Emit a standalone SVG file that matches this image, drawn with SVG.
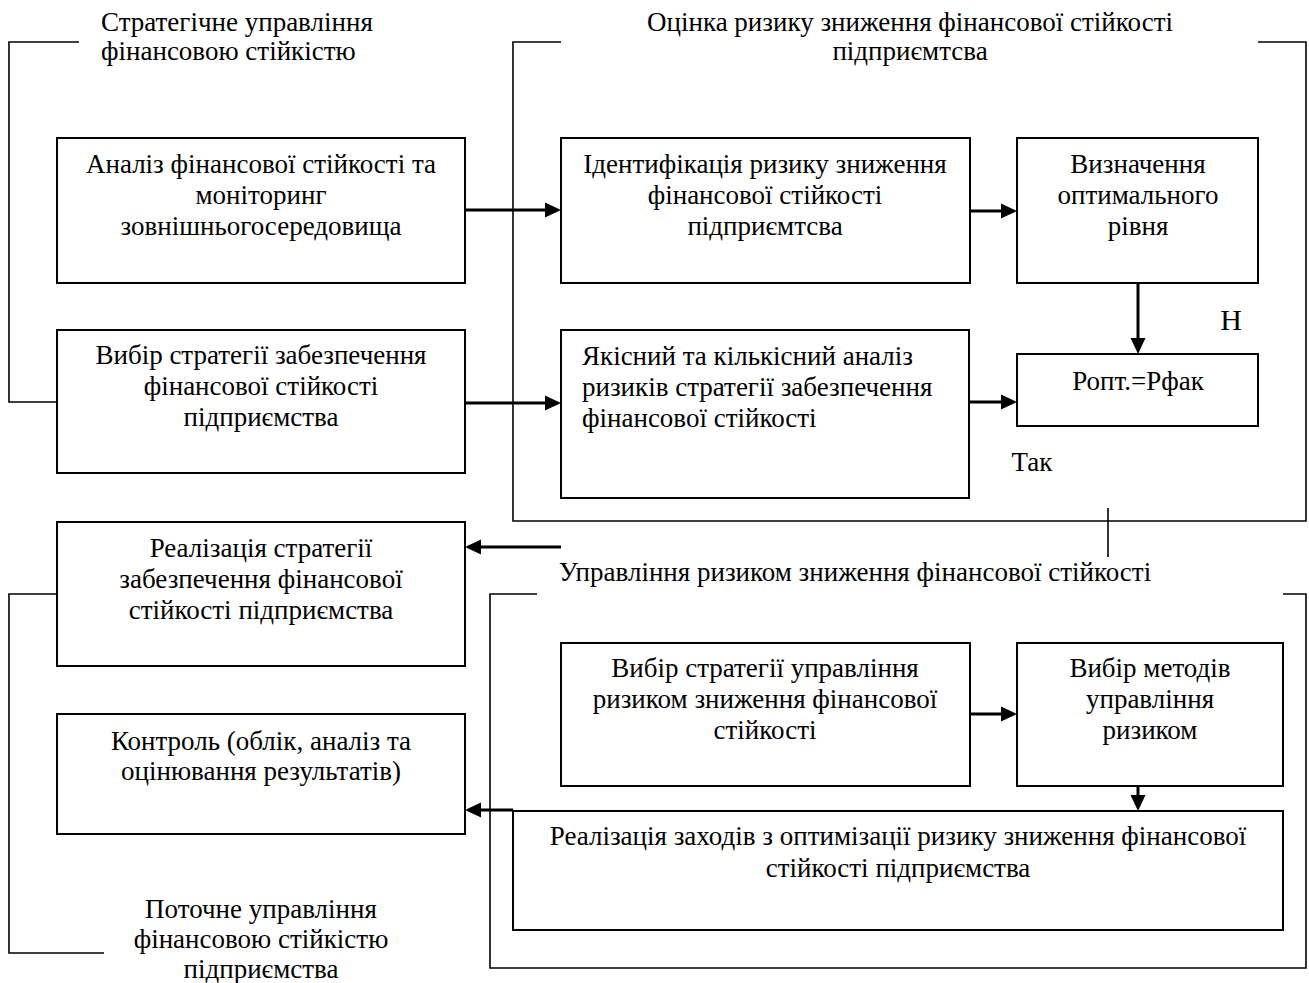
<svg xmlns="http://www.w3.org/2000/svg" width="1309" height="983" viewBox="0 0 1309 983">
<style>
.bx{fill:#fff;stroke:#000;stroke-width:2}
.br{fill:none;stroke:#000;stroke-width:1.6}
.ar{fill:none;stroke:#000;stroke-width:3;marker-end:url(#ah)}
text{font-family:"Liberation Serif","Times New Roman",serif;font-size:27px;fill:#000}
.c{text-anchor:middle}
</style>
<defs>
<marker id="ah" markerUnits="userSpaceOnUse" markerWidth="16" markerHeight="16" refX="6" refY="8" orient="auto">
<path d="M0,0.5 L16,8 L0,15.5 z" fill="#000"/>
</marker>
</defs>
<rect width="1309" height="983" fill="#fff"/>

<g id="frames">
<path class="br" d="M79,42 H9 V402 H57"/>
<path class="br" d="M561,42 H513 V521 H1306 V42 H1258"/>
<path class="br" d="M1108,508 V557"/>
<path class="br" d="M57,594 H9 V953 H104"/>
<path class="br" d="M537,594 H490 V968 H1306 V594 H1283"/>
</g>

<g id="labels">
<text x="101" y="31">Стратегічне управління</text>
<text x="101" y="60">фінансовою стійкістю</text>
<text class="c" x="910" y="31">Оцінка ризику зниження фінансової стійкості</text>
<text class="c" x="910" y="60">підприємтсва</text>
<text class="c" x="855" y="581">Управління ризиком зниження фінансової стійкості</text>
<text class="c" x="261" y="918">Поточне управління</text>
<text class="c" x="261" y="948">фінансовою стійкістю</text>
<text class="c" x="261" y="978">підприємства</text>
<text class="c" x="1231" y="330" style="font-size:30px">Н</text>
<text class="c" x="1032" y="471">Так</text>
</g>

<g id="n1"><rect class="bx" x="57" y="138" width="408" height="145"/>
<text class="c" x="261" y="173">Аналіз фінансової стійкості та</text>
<text class="c" x="261" y="204">моніторинг</text>
<text class="c" x="261" y="235">зовнішньогосередовища</text></g>

<g id="n2"><rect class="bx" x="57" y="330" width="408" height="143"/>
<text class="c" x="261" y="364">Вибір стратегії забезпечення</text>
<text class="c" x="261" y="395">фінансової стійкості</text>
<text class="c" x="261" y="426">підприємства</text></g>

<g id="n3"><rect class="bx" x="561" y="138" width="409" height="145"/>
<text class="c" x="765" y="173">Ідентифікація ризику зниження</text>
<text class="c" x="765" y="204">фінансової стійкості</text>
<text class="c" x="765" y="235">підприємтсва</text></g>

<g id="n4"><rect class="bx" x="561" y="330" width="408" height="168"/>
<text x="582" y="365">Якісний та кількісний аналіз</text>
<text x="582" y="396">ризиків стратегії забезпечення</text>
<text x="582" y="427">фінансової стійкості</text></g>

<g id="n5"><rect class="bx" x="1017" y="138" width="241" height="145"/>
<text class="c" x="1138" y="173">Визначення</text>
<text class="c" x="1138" y="204">оптимального</text>
<text class="c" x="1138" y="235">рівня</text></g>

<g id="n6"><rect class="bx" x="1017" y="354" width="241" height="72"/>
<text class="c" x="1138" y="390">Ропт.=Рфак</text></g>

<g id="n7"><rect class="bx" x="57" y="522" width="408" height="144"/>
<text class="c" x="261" y="557">Реалізація стратегії</text>
<text class="c" x="261" y="588">забезпечення фінансової</text>
<text class="c" x="261" y="619">стійкості підприємства</text></g>

<g id="n8"><rect class="bx" x="57" y="714" width="408" height="120"/>
<text class="c" x="261" y="750">Контроль (облік, аналіз та</text>
<text class="c" x="261" y="780">оцінювання результатів)</text></g>

<g id="n9"><rect class="bx" x="561" y="643" width="409" height="143"/>
<text class="c" x="765" y="677">Вибір стратегії управління</text>
<text class="c" x="765" y="708">ризиком зниження фінансової</text>
<text class="c" x="765" y="739">стійкості</text></g>

<g id="n10"><rect class="bx" x="1017" y="643" width="266" height="143"/>
<text class="c" x="1150" y="677">Вибір методів</text>
<text class="c" x="1150" y="708">управління</text>
<text class="c" x="1150" y="739">ризиком</text></g>

<g id="n11"><rect class="bx" x="513" y="811" width="770" height="119"/>
<text class="c" x="898" y="845">Реалізація заходів з оптимізації ризику зниження фінансової</text>
<text class="c" x="898" y="877">стійкості підприємства</text></g>

<g id="connectors">
<path class="ar" d="M466,210 H551"/>
<path class="ar" d="M466,403 H551"/>
<path class="ar" d="M971,211 H1007"/>
<path class="ar" d="M1138,284 V344"/>
<path class="ar" d="M970,402 H1007"/>
<path class="ar" d="M561,547 H475"/>
<path class="ar" d="M513,810 H475"/>
<path class="ar" d="M971,714 H1007"/>
<path class="ar" d="M1138,787 V801"/>
</g>
</svg>
